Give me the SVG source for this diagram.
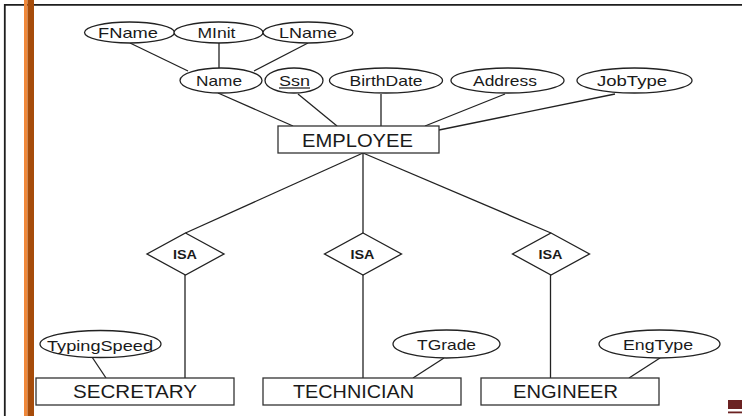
<svg xmlns="http://www.w3.org/2000/svg" width="742" height="416" viewBox="0 0 742 416">
<style>
.ln{stroke:#222;stroke-width:1.3;fill:none}
.el{stroke:#222;stroke-width:1.3;fill:#fff}
.bx{stroke:#333;stroke-width:1.3;fill:#fff}
.at{font-family:"Liberation Sans",Arial,sans-serif;font-size:15px;fill:#1a1a1a;text-anchor:middle}
.en{font-family:"Liberation Sans",Arial,sans-serif;font-size:18.5px;fill:#1a1a1a;text-anchor:middle}
.isa{font-family:"Liberation Sans",Arial,sans-serif;font-size:12px;font-weight:bold;fill:#1a1a1a;text-anchor:middle}
</style>
<rect width="742" height="416" fill="#fff"/>
<!-- frame -->
<path d="M4.8 416 V4.8 H742" fill="none" stroke="#1e1e1e" stroke-width="1.8"/>
<rect x="24" y="0" width="3.5" height="416" fill="#F0883A"/>
<rect x="27.5" y="0" width="6.5" height="416" fill="#A64C0A"/>
<rect x="728" y="400" width="14" height="9" fill="#6B2222"/>
<rect x="728" y="411.5" width="14" height="1.8" fill="#6B2222"/>

<g id="connectors">
<line class="ln" x1="130" y1="43" x2="188" y2="71"/>
<line class="ln" x1="219" y1="43" x2="219" y2="68"/>
<line class="ln" x1="308" y1="43" x2="254" y2="71"/>
<line class="ln" x1="218" y1="93" x2="293" y2="126"/>
<line class="ln" x1="298" y1="94" x2="337" y2="126"/>
<line class="ln" x1="381" y1="94" x2="381" y2="126"/>
<line class="ln" x1="505" y1="94" x2="425" y2="126"/>
<line class="ln" x1="615" y1="94" x2="439" y2="130"/>
<line class="ln" x1="363" y1="153" x2="185.5" y2="233"/>
<line class="ln" x1="363" y1="153" x2="363" y2="233"/>
<line class="ln" x1="363" y1="153" x2="551" y2="233"/>
<line class="ln" x1="185" y1="275" x2="185" y2="378"/>
<line class="ln" x1="363" y1="275" x2="363" y2="378"/>
<line class="ln" x1="550.5" y1="275" x2="550.5" y2="378"/>
<line class="ln" x1="92" y1="357" x2="106" y2="378"/>
<line class="ln" x1="444" y1="358" x2="413" y2="378"/>
<line class="ln" x1="660" y1="358" x2="629" y2="378"/>
</g>

<g id="FName"><ellipse class="el" cx="129.5" cy="32.5" rx="45" ry="10.5"/><text class="at" x="128" y="38" textLength="60" lengthAdjust="spacingAndGlyphs">FName</text></g>
<g id="MInit"><ellipse class="el" cx="218.5" cy="32.5" rx="44.5" ry="10.5"/><text class="at" x="216.5" y="38" textLength="38" lengthAdjust="spacingAndGlyphs">MInit</text></g>
<g id="LName"><ellipse class="el" cx="308" cy="32.5" rx="45" ry="10.5"/><text class="at" x="308" y="38" textLength="58" lengthAdjust="spacingAndGlyphs">LName</text></g>
<g id="Name"><ellipse class="el" cx="221" cy="80.5" rx="41" ry="12.5"/><text class="at" x="219" y="86" textLength="46" lengthAdjust="spacingAndGlyphs">Name</text></g>
<g id="Ssn"><ellipse class="el" cx="294" cy="80.5" rx="29" ry="12.5"/><text class="at" x="294.5" y="86" textLength="31" lengthAdjust="spacingAndGlyphs">Ssn</text><line x1="279" y1="88" x2="310" y2="88" stroke="#1a1a1a" stroke-width="1.2"/></g>
<g id="BirthDate"><ellipse class="el" cx="386" cy="80.5" rx="56.5" ry="12.5"/><text class="at" x="386" y="86" textLength="73" lengthAdjust="spacingAndGlyphs">BirthDate</text></g>
<g id="Address"><ellipse class="el" cx="507.5" cy="80.5" rx="56.5" ry="12.5"/><text class="at" x="505" y="86" textLength="64" lengthAdjust="spacingAndGlyphs">Address</text></g>
<g id="JobType"><ellipse class="el" cx="634.5" cy="80.5" rx="57.5" ry="12.5"/><text class="at" x="632" y="86" textLength="70" lengthAdjust="spacingAndGlyphs">JobType</text></g>

<g id="EMPLOYEE"><rect class="bx" x="278" y="126" width="161" height="27"/><text class="en" x="357.5" y="146.5" textLength="111" lengthAdjust="spacingAndGlyphs">EMPLOYEE</text></g>

<g id="ISA1"><polygon class="el" points="185.5,233 224,254 185.5,275 147,254"/><text class="isa" x="185" y="258.5" textLength="24" lengthAdjust="spacingAndGlyphs">ISA</text></g>
<g id="ISA2"><polygon class="el" points="363,233 401.5,254 363,275 324.5,254"/><text class="isa" x="362.5" y="258.5" textLength="24" lengthAdjust="spacingAndGlyphs">ISA</text></g>
<g id="ISA3"><polygon class="el" points="551,233 589.5,254 551,275 512.5,254"/><text class="isa" x="550.5" y="258.5" textLength="24" lengthAdjust="spacingAndGlyphs">ISA</text></g>

<g id="TypingSpeed"><ellipse class="el" cx="100.5" cy="344" rx="60.5" ry="13.5"/><text class="at" x="100" y="350.5" textLength="106" lengthAdjust="spacingAndGlyphs">TypingSpeed</text></g>
<g id="TGrade"><ellipse class="el" cx="446.5" cy="344" rx="53.5" ry="14"/><text class="at" x="446.5" y="349.5" textLength="59" lengthAdjust="spacingAndGlyphs">TGrade</text></g>
<g id="EngType"><ellipse class="el" cx="659.5" cy="344" rx="60.5" ry="14"/><text class="at" x="658" y="350" textLength="70" lengthAdjust="spacingAndGlyphs">EngType</text></g>

<g id="SECRETARY"><rect class="bx" x="36" y="378" width="198" height="27"/><text class="en" x="135" y="398" textLength="124" lengthAdjust="spacingAndGlyphs">SECRETARY</text></g>
<g id="TECHNICIAN"><rect class="bx" x="263" y="378" width="198" height="27"/><text class="en" x="353.5" y="398" textLength="121" lengthAdjust="spacingAndGlyphs">TECHNICIAN</text></g>
<g id="ENGINEER"><rect class="bx" x="481" y="378" width="178" height="27"/><text class="en" x="565.5" y="398" textLength="105" lengthAdjust="spacingAndGlyphs">ENGINEER</text></g>
</svg>
